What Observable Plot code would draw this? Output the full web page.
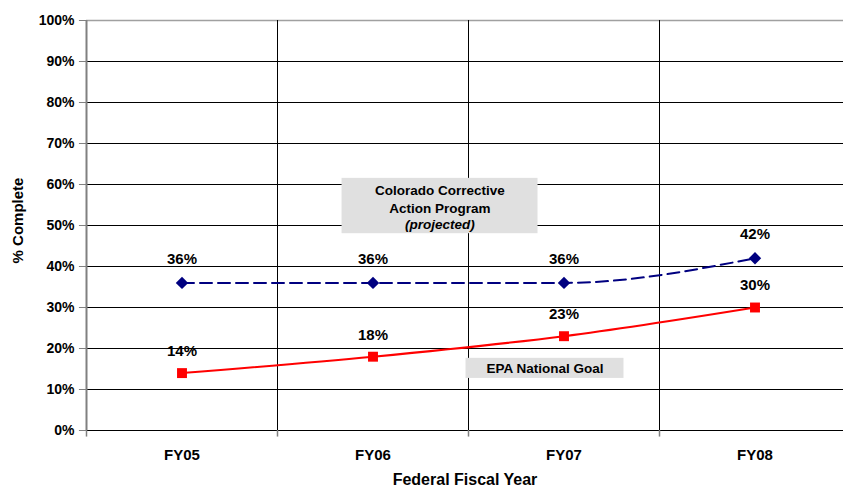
<!DOCTYPE html>
<html>
<head>
<meta charset="utf-8">
<script src="https://cdn.jsdelivr.net/npm/d3@7"></script>
<script src="https://cdn.jsdelivr.net/npm/@observablehq/plot@0.6"></script>
<style>
  body { margin: 0; background: white; overflow: hidden; }
  svg { overflow: hidden; }
</style>
</head>
<body>
<div id="chart"></div>
<script>
const categories = ["FY05", "FY06", "FY07", "FY08"];
const coloradoValues = [0.36, 0.36, 0.36, 0.42];
const epaValues = [0.14, 0.18, 0.23, 0.30];
const yTicks = [0, 0.1, 0.2, 0.3, 0.4, 0.5, 0.6, 0.7, 0.8, 0.9, 1.0];

const colorado = categories.map((c, i) => ({i, c, v: coloradoValues[i]}));
const epa = categories.map((c, i) => ({i, c, v: epaValues[i]}));
const boundaries = categories.slice(0, -1).map((c, i) => i + 0.5);
const allBounds = [-0.5, ...boundaries];

const font = "Liberation Sans, Arial, sans-serif";
const pct = d3.format(".0%");

const chart = Plot.plot({
  width: 843,
  height: 491,
  marginTop: 20,
  marginBottom: 61,
  marginLeft: 86,
  marginRight: 0,
  style: {fontFamily: font, fontWeight: "bold", fontSize: "14px", color: "black", background: "white"},
  x: {domain: [-0.5, 3.5], range: [86, 850], axis: null},
  y: {domain: [0, 1], range: [430, 20], axis: null},
  marks: [
    // horizontal gridlines
    Plot.ruleY(yTicks.filter(t => t < 1), {x1: -0.5, x2: 3.5, stroke: "black", strokeWidth: 1}),
    Plot.ruleY([1], {x1: -0.5, x2: 3.5, stroke: "#a0a0a0", strokeWidth: 1.5}),
    // y tick marks
    Plot.ruleY(yTicks, {x1: -0.5, x2: -0.537, stroke: "#808080", strokeWidth: 1}),
    // vertical gridlines at category boundaries
    Plot.ruleX(boundaries, {y1: 0, y2: 1, stroke: "black", strokeWidth: 1}),
    // small ticks below x axis
    Plot.ruleX(allBounds, {y1: 0, y2: -0.016, stroke: "#808080", strokeWidth: 1.5}),
    // y axis line
    Plot.ruleX([-0.5], {y1: 0, y2: 1, stroke: "#808080", strokeWidth: 2}),
    // y tick labels
    Plot.text(yTicks, {x: -0.5, y: d => d, text: d => pct(d), textAnchor: "end", dx: -12, fontSize: 14, fontWeight: "bold"}),
    // x labels
    Plot.text(categories, {x: (d, i) => i, y: 0, text: d => d, dy: 25, fontSize: 15, fontWeight: "bold"}),
    // annotation boxes
    Plot.rect([0], {x1: 0.838, x2: 1.864, y1: 0.480, y2: 0.615, fill: "#e0e0e0"}),
    Plot.text([0], {x: 1.35, y: 0.5475, text: () => "Colorado Corrective\nAction Program", dy: -8, fontSize: 13.5, fontWeight: "bold", lineHeight: 1.33}),
    Plot.text([0], {x: 1.35, y: 0.5475, text: () => "(projected)", dy: 19, fontSize: 13.5, fontWeight: "bold", fontStyle: "italic"}),
    Plot.rect([0], {x1: 1.487, x2: 2.314, y1: 0.127, y2: 0.176, fill: "#e0e0e0"}),
    Plot.text([0], {x: 1.9, y: 0.1515, text: () => "EPA National Goal", fontSize: 13.5, fontWeight: "bold"}),
    // lines
    Plot.line(colorado, {x: "i", y: "v", stroke: "#000080", strokeWidth: 2, strokeDasharray: "12,6", curve: "monotone-x"}),
    Plot.line(epa, {x: "i", y: "v", stroke: "#ff0000", strokeWidth: 2, curve: "catmull-rom"}),
    Plot.dot(colorado, {x: "i", y: "v", symbol: "diamond2", r: 5.6, fill: "#000080", stroke: "none"}),
    Plot.dot(epa, {x: "i", y: "v", symbol: "square", r: 5.6, fill: "#ff0000", stroke: "none"}),
    // value labels
    Plot.text(colorado, {x: "i", y: "v", text: d => pct(d.v), dy: -24, fontSize: 15, fontWeight: "bold"}),
    Plot.text(epa, {x: "i", y: "v", text: d => pct(d.v), dy: -22, fontSize: 15, fontWeight: "bold"}),
    // axis titles
    Plot.text(["Federal Fiscal Year"], {frameAnchor: "bottom", textAnchor: "middle", text: d => d, dy: 54, fontSize: 16, fontWeight: "bold"}),
    Plot.text(["% Complete"], {frameAnchor: "left", textAnchor: "middle", text: d => d, dx: -68, dy: -5, rotate: -90, fontSize: 15, fontWeight: "bold"})
  ]
});
document.getElementById("chart").appendChild(chart);
</script>
</body>
</html>
